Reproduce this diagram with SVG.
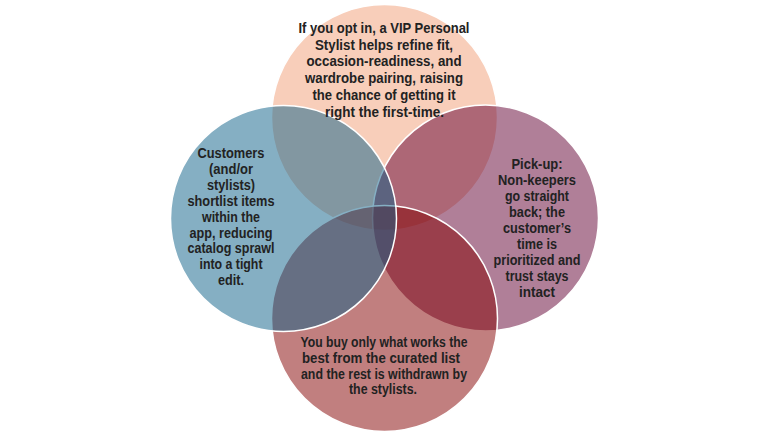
<svg xmlns="http://www.w3.org/2000/svg" width="768" height="437" viewBox="0 0 768 437">
<style>
.c{stroke:#fff;stroke-width:1.5}
.t{font-family:"Liberation Sans Narrow","Liberation Sans",Arial,sans-serif;font-weight:bold;font-size:14.5px;fill:#222;text-anchor:middle}
</style>
<rect width="768" height="437" fill="#fff"/>
<g id="node-top">
<circle class="c" cx="384.5" cy="117.5" r="113" fill="#F8CEBA"/>
</g>
<g id="node-right">
<circle class="c" cx="485.5" cy="218" r="113" fill="#610031" fill-opacity="0.5"/>
</g>
<g id="node-bottom">
<circle class="c" cx="384.5" cy="318.5" r="113" fill="#830000" fill-opacity="0.5"/>
</g>
<g id="node-left">
<circle class="c" cx="283.5" cy="218.5" r="113" fill="#0B5F87" fill-opacity="0.5"/>
</g>
<g id="labels" class="t">
<text x="384" y="33" textLength="171" lengthAdjust="spacingAndGlyphs">If you opt in, a VIP Personal</text>
<text x="384" y="49.7" textLength="138" lengthAdjust="spacingAndGlyphs">Stylist helps refine fit,</text>
<text x="384" y="66.4" textLength="155" lengthAdjust="spacingAndGlyphs">occasion-readiness, and</text>
<text x="384" y="83.1" textLength="158" lengthAdjust="spacingAndGlyphs">wardrobe pairing, raising</text>
<text x="384" y="99.8" textLength="143" lengthAdjust="spacingAndGlyphs">the chance of getting it</text>
<text x="384.5" y="116.5" textLength="119" lengthAdjust="spacingAndGlyphs">right the first-time.</text>

<text x="231" y="158.3" textLength="67" lengthAdjust="spacingAndGlyphs">Customers</text>
<text x="231" y="174.2" textLength="44" lengthAdjust="spacingAndGlyphs">(and/or</text>
<text x="231" y="190" textLength="48" lengthAdjust="spacingAndGlyphs">stylists)</text>
<text x="231" y="205.9" textLength="87" lengthAdjust="spacingAndGlyphs">shortlist items</text>
<text x="231" y="221.7" textLength="58" lengthAdjust="spacingAndGlyphs">within the</text>
<text x="231" y="237.6" textLength="83" lengthAdjust="spacingAndGlyphs">app, reducing</text>
<text x="231" y="253.4" textLength="87" lengthAdjust="spacingAndGlyphs">catalog sprawl</text>
<text x="231" y="269.3" textLength="63" lengthAdjust="spacingAndGlyphs">into a tight</text>
<text x="231" y="285.1" textLength="26" lengthAdjust="spacingAndGlyphs">edit.</text>

<text x="537" y="169" textLength="51" lengthAdjust="spacingAndGlyphs">Pick-up:</text>
<text x="537" y="185" textLength="78" lengthAdjust="spacingAndGlyphs">Non-keepers</text>
<text x="537" y="200.9" textLength="64" lengthAdjust="spacingAndGlyphs">go straight</text>
<text x="537" y="216.9" textLength="56" lengthAdjust="spacingAndGlyphs">back; the</text>
<text x="537" y="232.8" textLength="68" lengthAdjust="spacingAndGlyphs">customer’s</text>
<text x="537" y="248.8" textLength="40" lengthAdjust="spacingAndGlyphs">time is</text>
<text x="537" y="264.7" textLength="87" lengthAdjust="spacingAndGlyphs">prioritized and</text>
<text x="537" y="280.7" textLength="63" lengthAdjust="spacingAndGlyphs">trust stays</text>
<text x="537" y="296.6" textLength="36" lengthAdjust="spacingAndGlyphs">intact</text>

<text x="384" y="346.7" textLength="167" lengthAdjust="spacingAndGlyphs">You buy only what works the</text>
<text x="381" y="362.6" textLength="158" lengthAdjust="spacingAndGlyphs">best from the curated list</text>
<text x="384" y="378.5" textLength="166" lengthAdjust="spacingAndGlyphs">and the rest is withdrawn by</text>
<text x="383" y="394.3" textLength="68" lengthAdjust="spacingAndGlyphs">the stylists.</text>
</g>
</svg>
